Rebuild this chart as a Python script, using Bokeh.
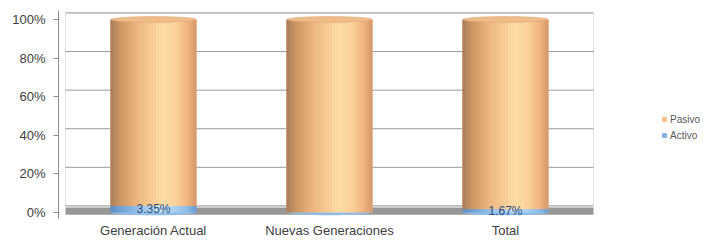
from bokeh.plotting import figure
from bokeh.models import (ColumnDataSource, Range1d, NumeralTickFormatter,
                          Legend, LegendItem, BoxAnnotation, FixedTicker)
from bokeh.transform import dodge
from bokeh.core.properties import value
from bokeh.embed import file_html
from bokeh.resources import INLINE

# ---- data ----
categories = ["Generación Actual", "Nuevas Generaciones", "Total"]
activo = [0.0335, 0.0, 0.0167]
pasivo = [0.9665, 1.0, 0.9833]
activo_labels = ["3.35%", "", "1.67%"]
series_names = ["Pasivo", "Activo"]
y_ticks = [0.0, 0.2, 0.4, 0.6, 0.8, 1.0]

n = len(categories)
xpos = [i + 0.5 for i in range(n)]          # category slots
total = [a + b for a, b in zip(activo, pasivo)]
source = ColumnDataSource(dict(
    x=xpos, cat=categories, act=activo, pas=pasivo, top=total,
    zero=[0.0] * n, lab=activo_labels, laby=[a / 2 for a in activo]))
grid_src = ColumnDataSource(dict(y=y_ticks, x0=[0] * len(y_ticks),
                                 x1=[n] * len(y_ticks)))

FONT = "Liberation Sans"
TXT = "#404040"
DEPTH = 0.034   # 3-D depth offset of the back wall (axis units)
SLOT_PX = 176   # width of one category slot in pixels
LEFT_PAD = 7    # gap between the axis and the first slot, pixels
FRAME_W = 711 - 58
X0 = -LEFT_PAD / SLOT_PX

p = figure(x_range=Range1d(X0, X0 + FRAME_W / SLOT_PX), y_range=(-0.0311, 1.0466),
           width=711, height=240, output_backend="svg", toolbar_location=None,
           min_border_left=58, min_border_right=0,
           min_border_top=10, min_border_bottom=22)
p.outline_line_color = None
p.background_fill_color = "white"
p.border_fill_color = "white"
p.xgrid.grid_line_color = None
p.ygrid.grid_line_color = None

# back wall + gridlines (back plane)
p.add_layout(BoxAnnotation(left=0, right=n, bottom=DEPTH, top=1 + DEPTH,
                           fill_alpha=0, line_color="#9a9a9a", line_width=1,
                           level="underlay"))
p.segment(x0="x0", x1="x1", y0=dodge("y", DEPTH, range=p.y_range),
          y1=dodge("y", DEPTH, range=p.y_range), source=grid_src,
          line_color="#9a9a9a", line_width=1, level="underlay")

# floor
p.add_layout(BoxAnnotation(left=0, right=n, bottom=-0.012, top=0.026,
                           fill_color="#979797", fill_alpha=1.0,
                           line_color=None, level="underlay"))

W = 0.485


def interp(stops, t):
    for (t0, c0), (t1, c1) in zip(stops, stops[1:]):
        if t0 <= t <= t1:
            f = (t - t0) / (t1 - t0) if t1 > t0 else 0
            a = [int(c0[i:i + 2], 16) for i in (1, 3, 5)]
            b = [int(c1[i:i + 2], 16) for i in (1, 3, 5)]
            return "#%02x%02x%02x" % tuple(int(round(a[k] + (b[k] - a[k]) * f)) for k in range(3))
    return stops[-1][1]


orange_stops = [(0.0, "#a87c57"), (0.1, "#c99462"), (0.3, "#edb47e"),
                (0.62, "#ffdca5"), (0.78, "#fbcf99"), (0.92, "#eeb17e"), (1.0, "#d8996b")]
blue_stops = [(0.0, "#5d8dc4"), (0.3, "#8fbde8"), (0.6, "#c6e2f8"),
              (0.9, "#90bde6"), (1.0, "#6a9ad0")]

# base bars (flat colours, used for legend)
r_pas = p.vbar(x="x", bottom="act", top="top", width=W, source=source,
               fill_color="#f6bf88", line_color=None)
r_act = p.vbar(x="x", bottom="zero", top="act", width=W, source=source,
               fill_color="#7fb1e0", line_color=None)

# bottom ellipse of the cylinders
p.ellipse(x="x", y="zero", width=W, height=0.028, source=source,
          fill_color="#8fbde8", line_color=None)

N = 28
sw = W / N
for i in range(N):
    t = (i + 0.5) / N
    off = -W / 2 + (i + 0.5) * sw
    xd = dodge("x", off, range=p.x_range)
    p.vbar(x=xd, bottom="act", top="top", width=sw * 1.35, source=source,
           fill_color=interp(orange_stops, t), line_color=None)
    p.vbar(x=xd, bottom="zero", top="act", width=sw * 1.35, source=source,
           fill_color=interp(blue_stops, t), line_color=None)

# top cap
p.ellipse(x="x", y="top", width=W, height=0.03, source=source,
          fill_color="#efbc8a", line_color="#dfa777", line_width=0.6)

# data labels
p.text(x="x", y="laby", text="lab", source=source, text_align="center",
       text_baseline="middle", text_font_size="12px", text_color="#2e4d7a",
       text_font=value(FONT))

# axes
p.yaxis.ticker = FixedTicker(ticks=y_ticks)
p.yaxis.formatter = NumeralTickFormatter(format="0%")
p.yaxis.axis_line_color = "#8c8c8c"
p.yaxis.major_tick_line_color = "#8c8c8c"
p.yaxis.major_tick_out = 5
p.yaxis.major_tick_in = 0
p.yaxis.minor_tick_line_color = None
p.yaxis.major_label_standoff = 8
p.yaxis.major_label_text_font = FONT
p.yaxis.major_label_text_font_size = "13px"
p.yaxis.major_label_text_color = TXT

p.xaxis.ticker = FixedTicker(ticks=xpos)
p.xaxis.major_label_overrides = {x: c for x, c in zip(xpos, categories)}
p.xaxis.axis_line_color = None
p.xaxis.major_tick_line_color = None
p.xaxis.major_tick_out = 0
p.xaxis.major_tick_in = 0
p.xaxis.minor_tick_line_color = None
p.xaxis.major_label_standoff = 4
p.xaxis.major_label_text_font = FONT
p.xaxis.major_label_text_font_size = "13px"
p.xaxis.major_label_text_color = TXT

legend = Legend(items=[LegendItem(label=series_names[0], renderers=[r_pas]),
                       LegendItem(label=series_names[1], renderers=[r_act])],
                location=(603, 77))
legend.border_line_color = None
legend.background_fill_alpha = 0
legend.label_text_font = FONT
legend.label_text_font_size = "10px"
legend.label_text_color = "#595959"
legend.glyph_width = 6
legend.glyph_height = 6
legend.label_height = 12
legend.spacing = 4
legend.label_standoff = 3
legend.padding = 4
legend.margin = 0
p.add_layout(legend, "center")

open("out.html", "w").write(file_html(p, INLINE))
